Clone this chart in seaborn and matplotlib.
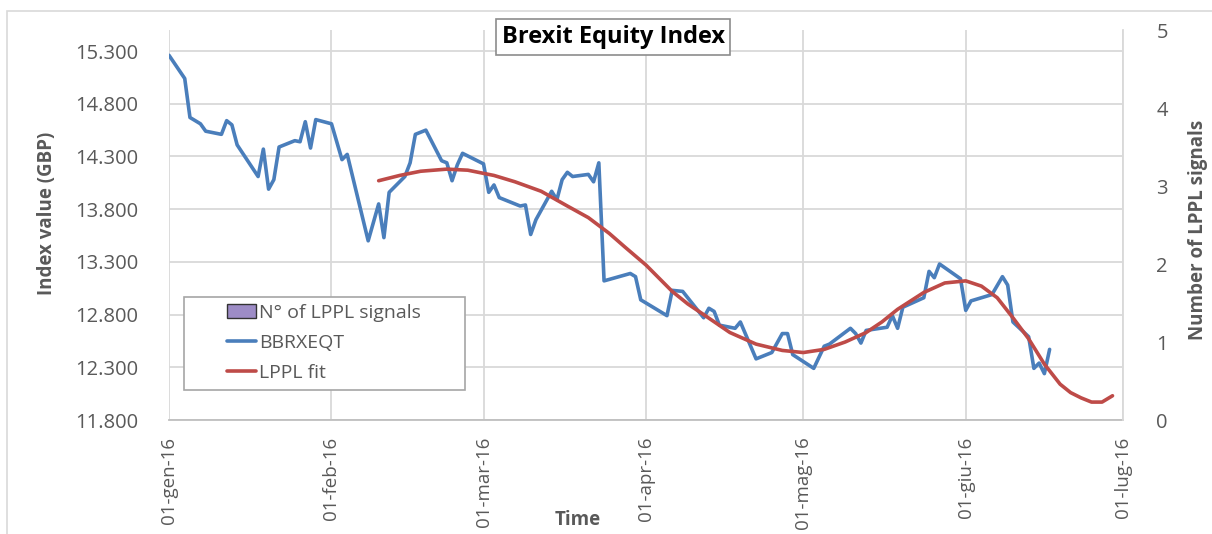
import pandas as pd
import seaborn as sns
import matplotlib.pyplot as plt
from matplotlib.patches import Rectangle, Patch
from matplotlib.lines import Line2D

# BBRXEQT daily closes
bbr_dates = [
    "2016-01-01", "2016-01-04", "2016-01-05", "2016-01-07", "2016-01-08", "2016-01-11",
    "2016-01-12", "2016-01-13", "2016-01-14", "2016-01-18", "2016-01-19", "2016-01-20",
    "2016-01-21", "2016-01-22", "2016-01-25", "2016-01-26", "2016-01-27", "2016-01-28",
    "2016-01-29", "2016-02-01", "2016-02-03", "2016-02-04", "2016-02-08", "2016-02-10",
    "2016-02-11", "2016-02-12", "2016-02-15", "2016-02-16", "2016-02-17", "2016-02-19",
    "2016-02-22", "2016-02-23", "2016-02-24", "2016-02-25", "2016-02-26", "2016-03-01",
    "2016-03-02", "2016-03-03", "2016-03-04", "2016-03-08", "2016-03-09", "2016-03-10",
    "2016-03-11", "2016-03-14", "2016-03-15", "2016-03-16", "2016-03-17", "2016-03-18",
    "2016-03-21", "2016-03-22", "2016-03-23", "2016-03-24", "2016-03-29", "2016-03-30",
    "2016-03-31", "2016-04-05", "2016-04-06", "2016-04-08", "2016-04-12", "2016-04-13",
    "2016-04-14", "2016-04-15", "2016-04-18", "2016-04-19", "2016-04-22", "2016-04-25",
    "2016-04-27", "2016-04-28", "2016-04-29", "2016-05-03", "2016-05-05", "2016-05-06",
    "2016-05-10", "2016-05-11", "2016-05-12", "2016-05-13", "2016-05-17", "2016-05-18",
    "2016-05-19", "2016-05-20", "2016-05-24", "2016-05-25", "2016-05-26", "2016-05-27",
    "2016-05-31", "2016-06-01", "2016-06-02", "2016-06-06", "2016-06-08", "2016-06-09",
    "2016-06-10", "2016-06-13", "2016-06-14", "2016-06-15", "2016-06-16", "2016-06-17",
]
bbr_values = [
    15.26, 15.04, 14.67, 14.61, 14.54, 14.51, 14.64, 14.60, 14.41, 14.11, 14.37, 13.99,
    14.08, 14.39, 14.45, 14.44, 14.63, 14.38, 14.65,
    14.61, 14.27, 14.32, 13.50, 13.85, 13.53, 13.96, 14.11, 14.24, 14.51, 14.55, 14.26,
    14.24, 14.07, 14.22, 14.33,
    14.23, 13.96, 14.03, 13.91, 13.83, 13.84, 13.56, 13.70, 13.97, 13.89, 14.08, 14.15,
    14.11, 14.13, 14.06, 14.24, 13.12, 13.19, 13.16, 12.94,
    12.79, 13.03, 13.02, 12.77, 12.86, 12.83, 12.70, 12.67, 12.73, 12.38, 12.44, 12.62,
    12.62, 12.42,
    12.29, 12.50, 12.52, 12.67, 12.62, 12.53, 12.65, 12.68, 12.79, 12.67, 12.87, 12.96,
    13.21, 13.15, 13.28, 13.14,
    12.84, 12.93, 12.99, 13.16, 13.08, 12.73, 12.59, 12.29, 12.34, 12.24, 12.47,
]

# LPPL fit curve
fit_dates = [
    "2016-02-10", "2016-02-14", "2016-02-18", "2016-02-23", "2016-02-27", "2016-03-03",
    "2016-03-07", "2016-03-12", "2016-03-17", "2016-03-21", "2016-03-25", "2016-03-28",
    "2016-04-01", "2016-04-06", "2016-04-09", "2016-04-12", "2016-04-17", "2016-04-22",
    "2016-04-27", "2016-05-01", "2016-05-05", "2016-05-09", "2016-05-13", "2016-05-16",
    "2016-05-19", "2016-05-24", "2016-05-28", "2016-06-01", "2016-06-04", "2016-06-07",
    "2016-06-10", "2016-06-13", "2016-06-16", "2016-06-19", "2016-06-21", "2016-06-23",
    "2016-06-25", "2016-06-27", "2016-06-29",
]
fit_values = [
    14.07, 14.12, 14.16, 14.18, 14.17, 14.12, 14.06, 13.97, 13.83, 13.72, 13.57, 13.44,
    13.27, 13.02, 12.90, 12.80, 12.63, 12.52, 12.46, 12.44, 12.47, 12.54, 12.63, 12.73,
    12.85, 13.01, 13.10, 13.12, 13.07, 12.96, 12.77, 12.57, 12.33, 12.14, 12.06, 12.01,
    11.97, 11.97, 12.03,
]

# N° of LPPL signals (none in the window)
signal_dates = ["2016-06-17"]
signal_counts = [0]

month_ticks = ["2016-01-01", "2016-02-01", "2016-03-01", "2016-04-01",
               "2016-05-01", "2016-06-01", "2016-07-01"]
month_labels = ["01-gen-16", "01-feb-16", "01-mar-16", "01-apr-16",
                "01-mag-16", "01-giu-16", "01-lug-16"]
index_ticks = [11.8, 12.3, 12.8, 13.3, 13.8, 14.3, 14.8, 15.3]
signal_ticks = [0, 1, 2, 3, 4, 5]


def main():
    sns.set_theme(style="white")
    plt.rcParams["font.family"] = ["Open Sans", "DejaVu Sans"]

    grey = "#595959"
    grid = "#d9d9d9"
    blue = "#4a7ebb"
    red = "#be4b48"
    lw = 2.6

    df = pd.DataFrame({"date": pd.to_datetime(bbr_dates), "value": bbr_values})
    fit = pd.DataFrame({"date": pd.to_datetime(fit_dates), "value": fit_values})

    fig = plt.figure(figsize=(12.12, 5.34), dpi=100)
    ax = fig.add_axes([169 / 1212, 1 - 420 / 534, 954 / 1212, 390 / 534])
    ax2 = ax.twinx()

    bars = ax2.bar(pd.to_datetime(signal_dates), signal_counts, width=1.0,
                   color="#9d8cc6", linewidth=0)

    sns.lineplot(data=df, x="date", y="value", ax=ax, color=blue, linewidth=lw)
    sns.lineplot(data=fit, x="date", y="value", ax=ax, color=red, linewidth=lw)

    ax.set_xlim(pd.Timestamp("2016-01-01"), pd.Timestamp("2016-07-01"))
    ax.set_ylim(11.8, 15.5)
    ax2.set_ylim(0, 5)

    ax.set_yticks(index_ticks)
    ax.set_yticklabels([f"{v:.3f}" for v in index_ticks])
    ax2.set_yticks(signal_ticks)
    ax.set_xticks(pd.to_datetime(month_ticks))
    ax.set_xticklabels(month_labels, rotation=90, va="top", ha="center")

    ax.grid(True, color=grid, linewidth=1.3)
    ax2.grid(False)
    ax.set_axisbelow(True)

    for a in (ax, ax2):
        for s in ("top", "left", "right", "bottom"):
            a.spines[s].set_visible(False)
    ax2.spines["right"].set_visible(True)
    ax2.spines["right"].set_color(grid)
    ax2.spines["right"].set_linewidth(1.3)
    ax.spines["bottom"].set_visible(True)
    ax.spines["bottom"].set_color("#bfbfbf")
    ax.spines["bottom"].set_linewidth(1.3)

    ax.tick_params(axis="y", length=0, pad=22, labelsize=14.5, labelcolor=grey)
    ax.tick_params(axis="x", length=0, pad=12, labelsize=13.5, labelcolor=grey)
    ax2.tick_params(axis="y", length=0, pad=24, labelsize=14.5, labelcolor=grey)

    ax.set_xlabel("Time", fontsize=13.5, fontweight="bold", color=grey)
    ax.xaxis.set_label_coords(0.428, -0.231)
    ax.set_ylabel("Index value (GBP)", fontsize=13.5, fontweight="bold", color=grey)
    ax.yaxis.set_label_coords(-0.117, 0.53)
    ax2.set_ylabel("Number of LPPL signals", fontsize=13.5, fontweight="bold", color=grey)
    ax2.yaxis.set_label_coords(1.068, 0.487)

    # title in a box
    fig.text(613 / 1212, 1 - 37 / 534, "Brexit Equity Index", ha="center", va="center",
             fontsize=17, fontweight="bold", color="black",
             bbox=dict(boxstyle="square,pad=0.25", fc="white", ec="#8c8c8c", lw=1.2))

    # legend box
    fig.add_artist(Rectangle((184 / 1212, 1 - 390 / 534), 281 / 1212, 93 / 534,
                             transform=fig.transFigure, facecolor="white",
                             edgecolor="#a6a6a6", linewidth=1.2, zorder=4))
    handles = [
        Patch(facecolor=bars.patches[0].get_facecolor(), edgecolor="#333333", linewidth=1.0),
        Line2D([0], [0], color=blue, linewidth=lw),
        Line2D([0], [0], color=red, linewidth=lw),
    ]
    labels = ["N° of LPPL signals", "BBRXEQT", "LPPL fit"]
    leg = fig.legend(handles, labels, loc="upper left",
                     bbox_to_anchor=(227 / 1212, 1 - 304 / 534),
                     frameon=False, fontsize=14, handlelength=1.5,
                     handletextpad=0.15, labelspacing=0.62, borderpad=0,
                     borderaxespad=0)
    leg.set_zorder(5)
    for t in leg.get_texts():
        t.set_color(grey)

    # outer chart border
    fig.add_artist(Rectangle((7 / 1212, -0.1), 1.2, (1 - 11 / 534) + 0.1,
                             transform=fig.transFigure, fill=False,
                             edgecolor=grid, linewidth=1.2, zorder=1))

    fig.savefig("out.png", dpi=100)
    plt.close(fig)


if __name__ == "__main__":
    main()
